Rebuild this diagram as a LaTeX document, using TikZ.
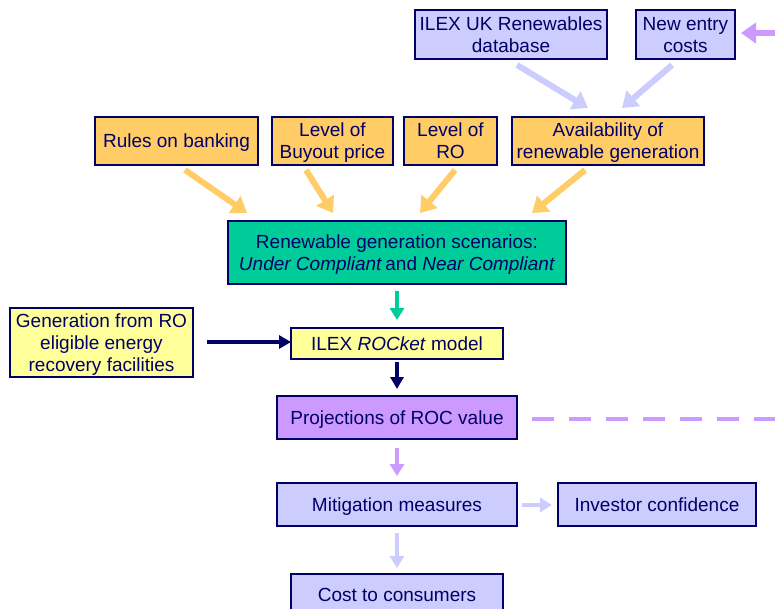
\documentclass[tikz,border=0pt]{standalone}
\usepackage{fontspec}
\setmainfont{Liberation Sans}
\usetikzlibrary{arrows.meta}
\definecolor{navy}{HTML}{000066}
\definecolor{orangeF}{HTML}{FFCC66}
\definecolor{greenF}{HTML}{00CC99}
\definecolor{yellowF}{HTML}{FFFF99}
\definecolor{purpleF}{HTML}{CC99FF}
\definecolor{lavF}{HTML}{CCCCFF}
\tikzset{
  bx/.style={draw=navy, line width=1.5pt, text=navy, inner sep=0pt, align=center,
    text depth=-2pt, font=\fontsize{19}{22}\selectfont},
  oarrow/.style={draw=orangeF, line width=6pt, -{Triangle[width=20pt,length=15pt]}},
  larrow/.style={draw=lavF, line width=6pt, -{Triangle[width=20pt,length=15pt]}},
  farrow/.style={draw=purpleF, line width=6pt, -{Triangle[width=20pt,length=15pt]}},
  garrow/.style={draw=greenF, line width=4pt, -{Triangle[width=14pt,length=12pt]}},
  narrow/.style={draw=navy, line width=3.5pt, -{Triangle[width=13pt,length=12pt]}},
  parrow/.style={draw=purpleF, line width=4pt, -{Triangle[width=14pt,length=12pt]}},
  lvarrow/.style={draw=lavF, line width=4pt, -{Triangle[width=14pt,length=12pt]}},
  dashline/.style={draw=purpleF, line width=4pt, dash pattern=on 22pt off 15pt},
}
\begin{document}
\begin{tikzpicture}[x=1pt,y=-1pt]
\useasboundingbox (0,0) rectangle (775,608);
\clip (0,0) rectangle (775,608);
\fill[white] (0,0) rectangle (775,608);
% top row
\node[bx, fill=lavF, minimum width=192pt, minimum height=49pt] (db) at (511,34.5) {ILEX UK Renewables\\database};
\node[bx, fill=lavF, minimum width=99pt, minimum height=49pt] (nec) at (685.5,34.5) {New entry\\costs};
% orange row
\node[bx, fill=orangeF, minimum width=163pt, minimum height=48pt] (rules) at (176.5,141) {Rules on banking};
\node[bx, fill=orangeF, minimum width=121pt, minimum height=48pt] (buy) at (332.5,141) {Level of\\Buyout price};
\node[bx, fill=orangeF, minimum width=93pt, minimum height=48pt] (ro) at (450.5,141) {Level of\\RO};
\node[bx, fill=orangeF, minimum width=192pt, minimum height=48pt] (avail) at (608,141) {Availability of\\renewable generation};
% scenarios
\node[bx, fill=greenF, minimum width=338pt, minimum height=63pt] (scen) at (397,252.5) {Renewable generation scenarios:\\\textit{Under Compliant}\,and \textit{Near Compliant}};
% rocket
\node[bx, fill=yellowF, minimum width=212pt, minimum height=31pt] (rocket) at (397,343.5) {ILEX \textit{ROCket} model};
\node[bx, fill=yellowF, minimum width=183pt, minimum height=69pt] (gen) at (101.5,342.5) {Generation from RO\\eligible energy\\recovery facilities};
% projections
\node[bx, fill=purpleF, minimum width=240pt, minimum height=43pt] (proj) at (397,417.5) {Projections of ROC value};
\node[bx, fill=lavF, minimum width=240pt, minimum height=43pt] (mit) at (397,504.5) {Mitigation measures};
\node[bx, fill=lavF, minimum width=198pt, minimum height=43pt] (inv) at (657,504.5) {Investor confidence};
\node[bx, fill=lavF, minimum width=212pt, minimum height=41pt] (cost) at (397,594.5) {Cost to consumers};
% coordinates
\coordinate (dbA) at (517,65); \coordinate (dbB) at (588,108);
\coordinate (neA) at (672,65); \coordinate (neB) at (622,108);
\coordinate (fbA) at (775,33); \coordinate (fbB) at (741,33);
\coordinate (rA) at (185,170); \coordinate (rB) at (247,213);
\coordinate (bA) at (306,170); \coordinate (bB) at (333,213);
\coordinate (oA) at (455,170); \coordinate (oB) at (420,213);
\coordinate (aA) at (585,170); \coordinate (aB) at (532,213);
\coordinate (gA) at (397,291); \coordinate (gB) at (397,320);
\coordinate (nA) at (207,342); \coordinate (nB) at (291,342);
\coordinate (kA) at (397,362); \coordinate (kB) at (397,389);
\coordinate (dA) at (532,419); \coordinate (dB) at (775,419);
\coordinate (pA) at (397,448); \coordinate (pB) at (397,476);
\coordinate (mA) at (522,505); \coordinate (mB) at (552,505);
\coordinate (cA) at (397,533); \coordinate (cB) at (397,568);
% arrows
\draw[larrow] (dbA) -- (dbB);
\draw[larrow] (neA) -- (neB);
\draw[farrow] (fbA) -- (fbB);
\draw[oarrow] (rA) -- (rB);
\draw[oarrow] (bA) -- (bB);
\draw[oarrow] (oA) -- (oB);
\draw[oarrow] (aA) -- (aB);
\draw[garrow] (gA) -- (gB);
\draw[narrow] (nA) -- (nB);
\draw[narrow] (kA) -- (kB);
\draw[dashline] (dA) -- (dB);
\draw[parrow] (pA) -- (pB);
\draw[lvarrow] (mA) -- (mB);
\draw[lvarrow] (cA) -- (cB);
\end{tikzpicture}
\end{document}
